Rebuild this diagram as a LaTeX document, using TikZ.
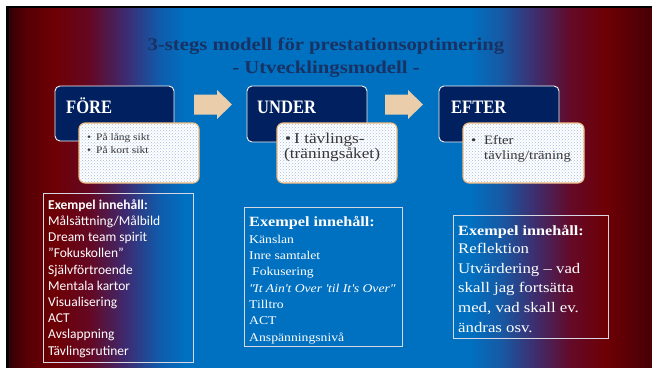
\documentclass[tikz,border=0pt]{standalone}
\usepackage{fontspec}
\usepackage{graphicx}
\setmainfont[FakeStretch=1.15]{Liberation Serif}
\newfontfamily\headfont[FakeStretch=0.87]{Liberation Serif}
\newfontfamily\calfont{Carlito}
\usetikzlibrary{patterns}

\definecolor{navy}{RGB}{0,32,96}
\definecolor{arrowtan}{RGB}{234,206,172}
\definecolor{subbord}{RGB}{238,186,128}
\definecolor{titlec}{RGB}{25,50,100}
\definecolor{dotc}{RGB}{160,188,228}
\definecolor{graytxt}{RGB}{55,55,55}
\definecolor{boxline}{RGB}{215,215,225}

\definecolor{bga}{RGB}{50,0,5}
\definecolor{bgb}{RGB}{85,0,5}
\definecolor{bgc}{RGB}{110,0,5}
\definecolor{bgd}{RGB}{100,8,35}
\definecolor{bge}{RGB}{62,42,112}
\definecolor{bgf}{RGB}{15,92,172}
\definecolor{bgg}{RGB}{0,112,192}
\definecolor{bgh}{RGB}{22,90,165}
\definecolor{bgi}{RGB}{62,45,110}
\definecolor{bgj}{RGB}{100,10,40}
\definecolor{bgk}{RGB}{110,0,5}
\definecolor{bgl}{RGB}{70,0,5}

\pgfdeclarehorizontalshading{slidebg}{100bp}{color(0bp)=(bga); color(25bp)=(bga); color(26.24bp)=(bgb); color(28.58bp)=(bgc); color(31.3bp)=(bgd); color(34.02bp)=(bge); color(36.74bp)=(bgf); color(38.69bp)=(bgg); color(60.85bp)=(bgg); color(63.18bp)=(bgh); color(65.9bp)=(bgi); color(68.62bp)=(bgj); color(71.35bp)=(bgk); color(75bp)=(bgl); color(100bp)=(bgl)}

\tikzset{
  stage/.style={draw=white!92!gray, line width=0.9pt, fill=navy, rounded corners=5pt, inner sep=0},
  stagetext/.style={anchor=base west, inner sep=0, text=white, font=\headfont\bfseries\fontsize{19}{19}\selectfont},
  detail/.style={draw=subbord, line width=1.1pt, rounded corners=6pt, pattern=crosshatch dots, pattern color=dotc, preaction={fill=white, rounded corners=6pt}, inner sep=0},
  detailtext/.style={anchor=north west, inner sep=0, align=left, text=graytxt},
  example/.style={draw=boxline, line width=0.8pt, inner sep=0},
  exampletext/.style={anchor=north west, inner sep=0, align=left, text=white},
  titletext/.style={anchor=base, inner sep=0, text=titlec, font=\bfseries\fontsize{18}{18}\selectfont},
  blockarrow/.style={fill=arrowtan}
}

\begin{document}
\begin{tikzpicture}[x=1pt, y=-1pt]
\useasboundingbox (0,0) rectangle (652,369);
% slide background
\fill[black] (6,6) rectangle (652,368);
\shade[shading=slidebg] (9,9) rectangle (652,367);

% title
\node[titletext] (t1) at (326,51) {3-stegs modell för prestationsoptimering};
\node[titletext] (t2) at (326,74) {- Utvecklingsmodell -};

% stage boxes
\node[stage, minimum width=119pt, minimum height=55pt] (fore) at (114.5,113.5) {};
\node[stage, minimum width=120pt, minimum height=56pt] (under) at (307,114) {};
\node[stage, minimum width=120pt, minimum height=56pt] (efter) at (499,114) {};
\node[stagetext] (foret) at (66,113) {FÖRE};
\node[stagetext] (undert) at (257,113) {UNDER};
\node[stagetext] (eftert) at (451,113) {EFTER};

% block arrows
\fill[blockarrow] (194,94.5) -- (217,94.5) -- (217,90) -- (232,104.5) -- (217,119) -- (217,114.5) -- (194,114.5) -- cycle;
\fill[blockarrow] (385,94.5) -- (408,94.5) -- (408,90) -- (423,104.5) -- (408,119) -- (408,114.5) -- (385,114.5) -- cycle;

% detail boxes
\node[detail, minimum width=120pt, minimum height=60pt] (d1) at (139,153) {};
\node[detail, minimum width=120pt, minimum height=60pt] (d2) at (337,153) {};
\node[detail, minimum width=121pt, minimum height=60pt] (d3) at (523.5,153) {};

\node[detailtext, font=\fontsize{10}{13}\selectfont] (d1t) at (87,131.5)
  {\rule{0pt}{9pt}\makebox[9pt][l]{•}På lång sikt\\\makebox[9pt][l]{•}På kort sikt};
\node[detailtext, font=\fontsize{15}{15}\selectfont] (d2t) at (284,131)
  {\rule{0pt}{12pt}\hspace{1pt}•\hspace{3pt}I tävlings-\\(träningsåket)};
\node[detailtext, font=\fontsize{12.8}{14.5}\selectfont] (d3t) at (471,134.5)
  {\rule{0pt}{10pt}\makebox[13pt][l]{•}Efter\\\hspace{13pt}tävling/träning};

% example boxes
\node[example, minimum width=150pt, minimum height=169pt] (e1) at (118,277.5) {};
\node[example, minimum width=158pt, minimum height=139pt] (e2) at (323,276.5) {};
\node[example, minimum width=155pt, minimum height=123pt] (e3) at (530.5,276.5) {};

\node[exampletext, font=\calfont\fontsize{13.5}{16.2}\selectfont] (e1t) at (48,199)
  {\rule{0pt}{10pt}\textbf{Exempel innehåll:}\\
   Målsättning/Målbild\\
   Dream team spirit\\
   ”Fokuskollen”\\
   Självförtroende\\
   Mentala kartor\\
   Visualisering\\
   ACT\\
   Avslappning\\
   Tävlingsrutiner};

\node[anchor=base west, inner sep=0, text=white, font=\bfseries\fontsize{14.1}{14.1}\selectfont] (e2h) at (249,226) {Exempel innehåll:};
\node[exampletext, font=\fontsize{11.9}{16.3}\selectfont] (e2t) at (249,234)
  {\rule{0pt}{9pt}Känslan\\
   Inre samtalet\\
   \hspace{3pt}Fokusering\\
   \textit{\textquotedbl It Ain\textquotesingle t Over \textquotesingle til It\textquotesingle s Over\textquotedbl}\\
   Tilltro\\
   ACT\\
   Anspänningsnivå};

\node[anchor=base west, inner sep=0, text=white, font=\bfseries\fontsize{14.1}{14.1}\selectfont] (e3h) at (458,235) {Exempel innehåll:};
\node[exampletext, font=\fontsize{14.6}{19.8}\selectfont] (e3t) at (458,242)
  {\rule{0pt}{11pt}Reflektion\\
   Utvärdering – vad\\
   skall jag fortsätta\\
   med, vad skall ev.\\
   ändras osv.};
\end{tikzpicture}
\end{document}
